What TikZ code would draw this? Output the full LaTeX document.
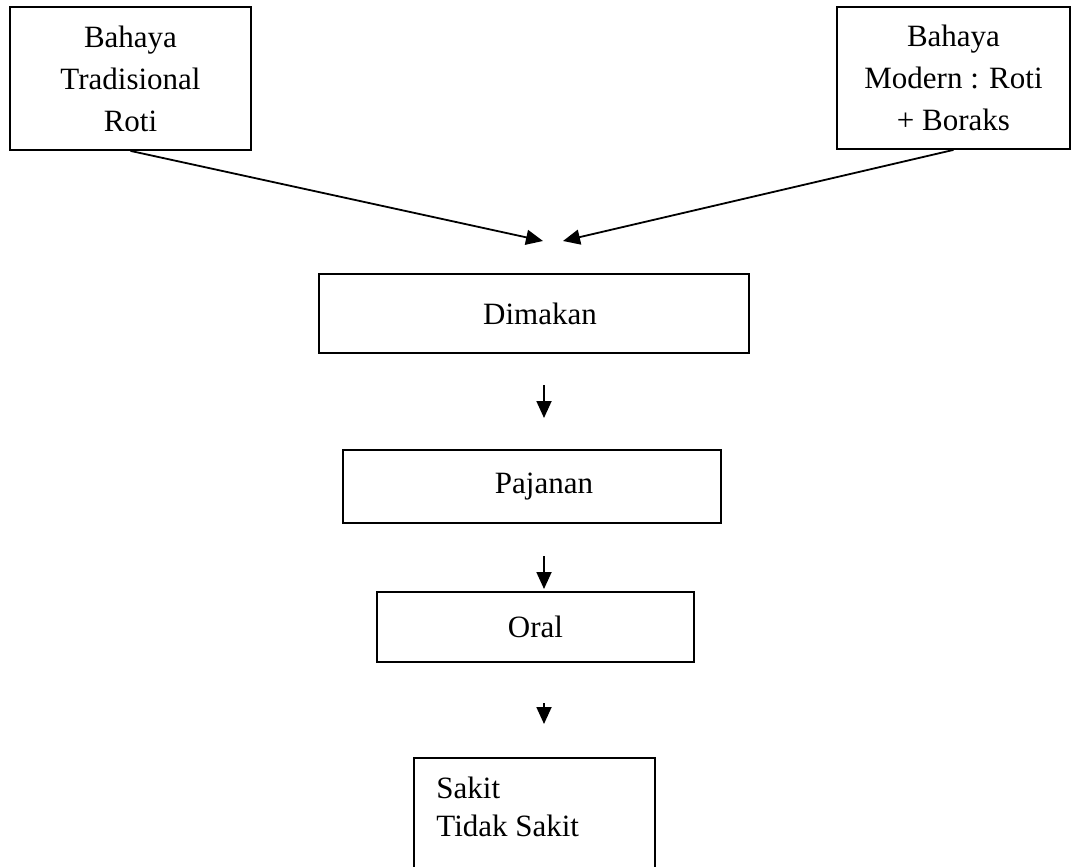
\documentclass[tikz,border=0pt]{standalone}
\usepackage{fontspec}
\setmainfont{Liberation Serif}
\usetikzlibrary{arrows.meta, calc}

\tikzset{
  kotak/.style={draw=black, line width=0.9pt, inner sep=0pt, align=center,
    font=\fontsize{15.5}{21}\selectfont},
  panah/.style={line width=0.9pt, -{Triangle[length=8.5pt, width=7.5pt]}}
}

\begin{document}
\begin{tikzpicture}[x=0.5pt, y=-0.5pt]

	\useasboundingbox (0,0) rectangle (1071,867);
	\clip (0,0) rectangle (1071,867);

	% kotak bahaya
	\node[kotak, minimum width=120.5pt, minimum height=71.5pt] (tradisional) at (130.5,78.5) {Bahaya\\Tradisional\\Roti};
	\node[kotak, minimum width=116.5pt, minimum height=71pt] (modern) at (953.5,78) {Bahaya\\Modern : Roti\\+ Boraks};

	% alur
	\node[kotak, minimum width=215pt, minimum height=39.5pt] (dimakan) at (534,313.5) {\hspace*{6pt}Dimakan};
	\node[kotak, minimum width=189pt, minimum height=36.5pt] (pajanan) at (532,486.5) {\hspace*{12pt}Pajanan};
	\node[kotak, minimum width=158.5pt, minimum height=35pt] (oral) at (535.5,627) {Oral};
	\node[kotak, minimum width=120.5pt, minimum height=71.5pt, anchor=north] (sakit) at (534.5,757) {};
	\node[anchor=north west, inner sep=0pt, align=left, font=\fontsize{15.5}{19}\selectfont] (hasil) at (436,777) {Sakit\\Tidak Sakit};

	\coordinate (tA) at (543,241);
	\coordinate (tB) at (563,241);
	\coordinate (a1) at (544,385);
	\coordinate (b1) at (544,418);
	\coordinate (a2) at (544,556);
	\coordinate (b2) at (544,589);
	\coordinate (a3) at (544,703);
	\coordinate (b3) at (544,724);

	\draw[panah] (tradisional.south) -- (tA);
	\draw[panah] (modern.south) -- (tB);
	\draw[panah] (a1) -- (b1);
	\draw[panah] (a2) -- (b2);
	\draw[panah] (a3) -- (b3);

\end{tikzpicture}
\end{document}
